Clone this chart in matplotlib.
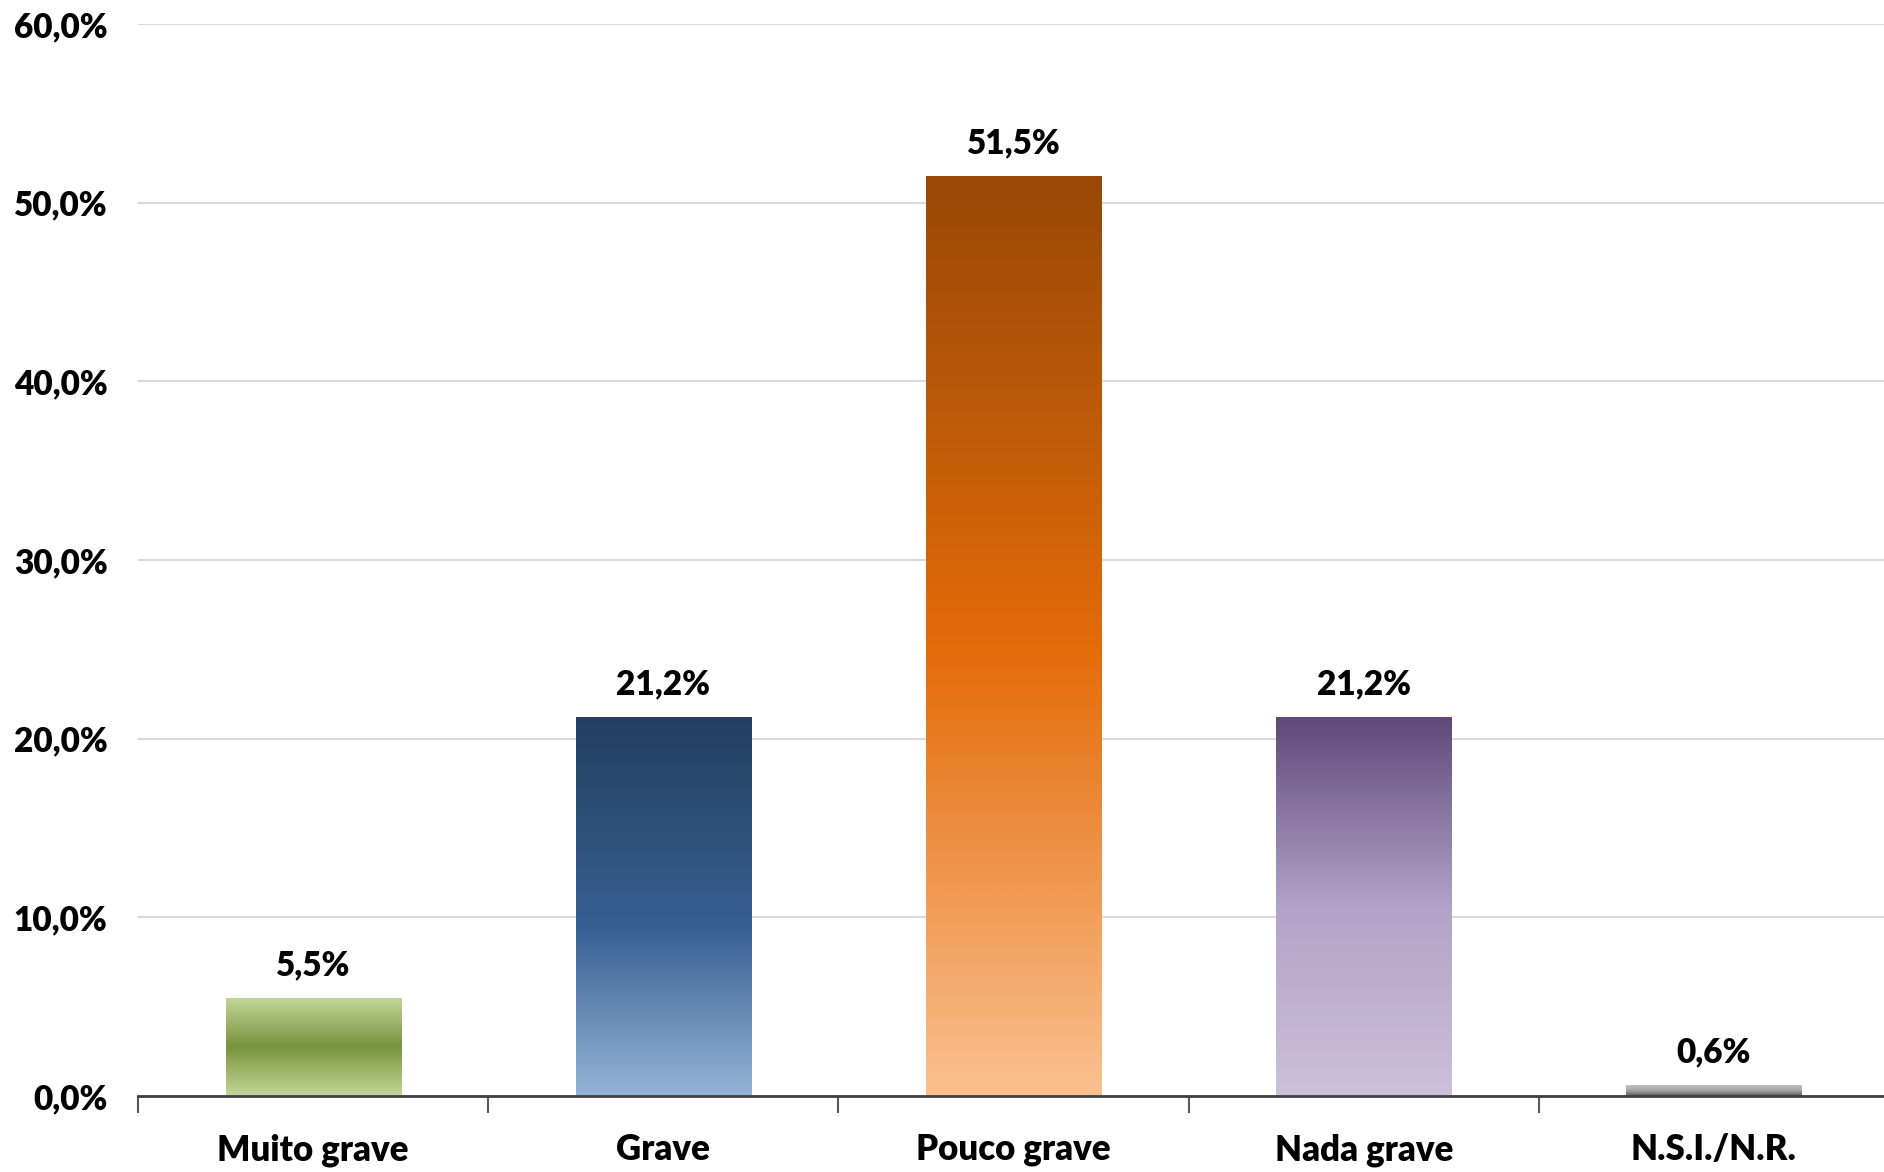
import numpy as np
import matplotlib.pyplot as plt
from matplotlib.colors import LinearSegmentedColormap

categories = ['Muito grave', 'Grave', 'Pouco grave', 'Nada grave', 'N.S.I./N.R.']
values = [5.5, 21.2, 51.5, 21.2, 0.6]
value_labels = ['5,5%', '21,2%', '51,5%', '21,2%', '0,6%']
yticks = [0, 10, 20, 30, 40, 50, 60]
ytick_labels = ['0,0%', '10,0%', '20,0%', '30,0%', '40,0%', '50,0%', '60,0%']

# gradient stops, top -> bottom
gradients = [
    [(0.0, '#c4d79b'), (0.5, '#77933c'), (1.0, '#c4d79b')],
    [(0.0, '#243f60'), (0.55, '#366092'), (1.0, '#95b3d7')],
    [(0.0, '#984807'), (0.52, '#e46c0a'), (1.0, '#fac090')],
    [(0.0, '#5f497a'), (0.5, '#b3a2c7'), (1.0, '#ccc0da')],
    [(0.0, '#bfbfbf'), (0.5, '#a6a6a6'), (1.0, '#595959')],
]

plt.rcParams['font.family'] = ['Lato', 'DejaVu Sans']
fw = 'heavy'
fs = 24

fig = plt.figure(figsize=(18.84, 11.72), dpi=100)
ax = fig.add_axes([138 / 1884, 76 / 1172, (1889 - 138) / 1884, (1096 - 24) / 1172])

x = np.arange(len(categories))
bars = ax.bar(x, values, width=0.5, color='none', zorder=3)

for bar, stops in zip(bars, gradients):
    cmap = LinearSegmentedColormap.from_list('g', stops)
    x0, y0 = bar.get_x(), bar.get_y()
    w, h = bar.get_width(), bar.get_height()
    grad = np.linspace(0, 1, 256).reshape(-1, 1)
    im = ax.imshow(grad, cmap=cmap, aspect='auto', origin='upper',
                   extent=[x0, x0 + w, y0, y0 + h],
                   interpolation='bicubic', zorder=3)
    im.set_clip_path(bar)

for xi, v, lab in zip(x, values, value_labels):
    ax.annotate(lab, (xi, v), xytext=(0, 12), textcoords='offset points',
                ha='center', va='bottom', fontsize=fs, fontweight=fw)

ax.set_xlim(-0.5, len(categories) - 0.5)
ax.set_ylim(0, 60)
ax.set_yticks(yticks)
ax.set_yticklabels(ytick_labels, fontsize=fs, fontweight=fw)
ax.set_xticks(x)
ax.set_xticklabels(categories, fontsize=fs + 1, fontweight=fw)
ax.set_xticks(np.arange(len(categories) + 1) - 0.5, minor=True)
ax.tick_params(axis='x', which='major', length=0, pad=27)
ax.tick_params(axis='x', which='minor', length=12, width=1.5, color='#595959')
ax.tick_params(axis='y', length=0, pad=22)

ax.grid(axis='y', color='#d9d9d9', linewidth=1.5, zorder=0)
ax.set_axisbelow(True)
for s in ['top', 'right', 'left']:
    ax.spines[s].set_visible(False)
ax.spines['bottom'].set_color('#404040')
ax.spines['bottom'].set_linewidth(2)
ax.spines['bottom'].set_zorder(4)

fig.savefig('out.png', dpi=100)
